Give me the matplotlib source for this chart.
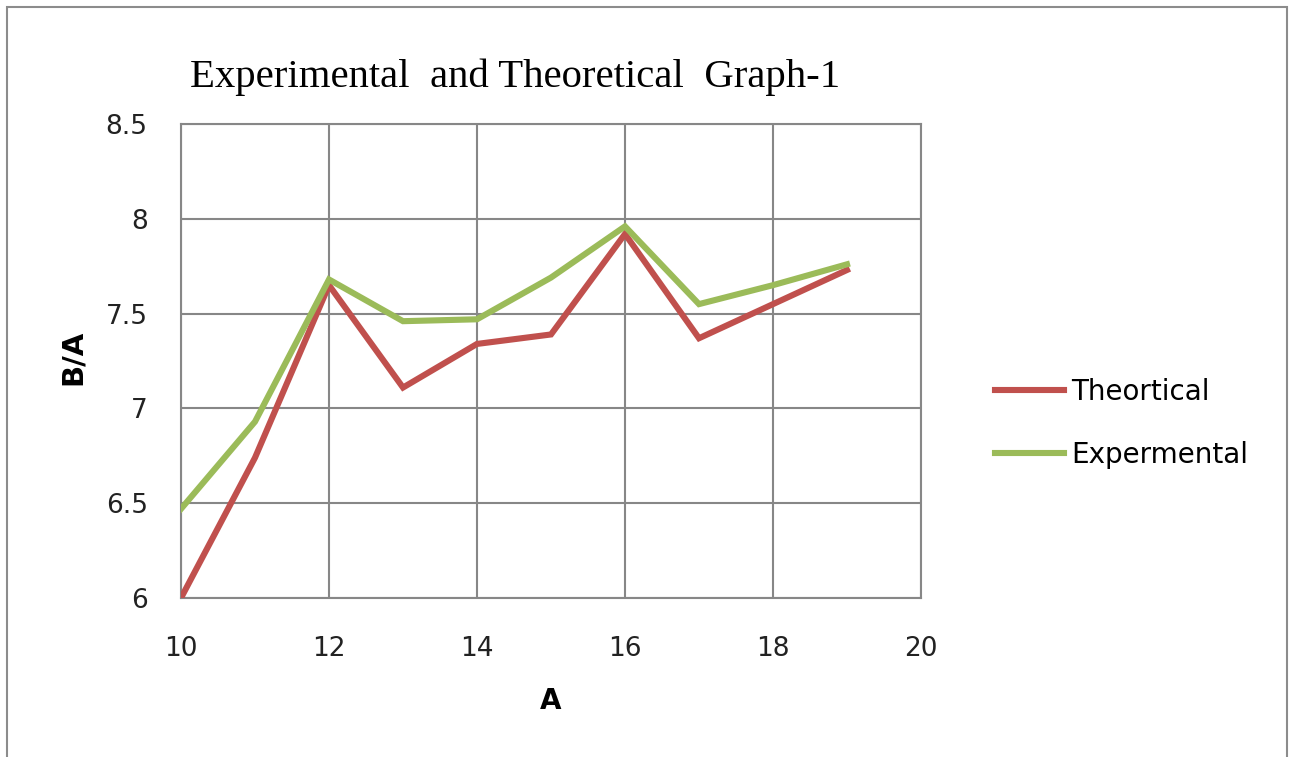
import numpy as np
import matplotlib.pyplot as plt
from matplotlib.patches import Rectangle

# chart data
a_values = [10, 11, 12, 13, 14, 15, 16, 17, 18, 19]
theoretical = [6.00, 6.74, 7.65, 7.11, 7.34, 7.39, 7.92, 7.37, 7.55, 7.73]
experimental = [6.47, 6.93, 7.68, 7.46, 7.47, 7.69, 7.96, 7.55, 7.65, 7.76]
x_ticks = [10, 12, 14, 16, 18, 20]
y_ticks = [6, 6.5, 7, 7.5, 8, 8.5]
y_tick_labels = ["6", "6.5", "7", "7.5", "8", "8.5"]

red = "#c0504d"
green = "#9bbb59"
grid_gray = "#878787"
sans = "DejaVu Sans"

fig = plt.figure(figsize=(12.95, 7.57), dpi=100)
ax = fig.add_axes([181 / 1295, 1 - 598 / 757, 740 / 1295, 474 / 757])

# outer chart border
fig.patches.append(Rectangle((7 / 1295, -0.05), 1280 / 1295, 1.05 - 7 / 757,
                             transform=fig.transFigure, fill=False,
                             edgecolor="#8c8c8c", linewidth=1.5))

ax.plot(a_values, theoretical, color=red, linewidth=4.4, label="Theortical",
        solid_joinstyle="miter", zorder=3)
ax.plot(a_values, experimental, color=green, linewidth=4.4, label="Expermental",
        solid_joinstyle="miter", zorder=3)

ax.set_xlim(10, 20)
ax.set_ylim(6, 8.5)
ax.set_xticks(x_ticks)
ax.set_yticks(y_ticks)
ax.set_yticklabels(y_tick_labels)
ax.grid(True, color=grid_gray, linewidth=1.5)
ax.set_axisbelow(True)
for s in ax.spines.values():
    s.set_color(grid_gray)
    s.set_linewidth(1.5)
ax.tick_params(length=0, labelsize=19, colors="#222222")
ax.tick_params(axis="y", pad=24)
ax.tick_params(axis="x", pad=27)
for lab in ax.get_xticklabels() + ax.get_yticklabels():
    lab.set_family(sans)

ax.set_xlabel("A", fontsize=20, fontweight="bold", family=sans)
ax.set_ylabel("B/A", fontsize=21, fontweight="bold", family=sans)
ax.xaxis.set_label_coords(0.5, -0.188)
ax.yaxis.set_label_coords(-0.127, 0.508)

fig.text(190 / 1295, 1 - 77 / 757, "Experimental  and Theoretical  Graph-1",
         fontsize=29.3, family="Liberation Serif", ha="left", va="center")

ax.legend(loc="center left", bbox_to_anchor=(1.1, 0.368), frameon=False,
          prop={"family": sans, "size": 20}, borderpad=0, borderaxespad=0,
          handlelength=2.5, handletextpad=0.25, labelspacing=1.25)

fig.savefig("out.png", dpi=100, facecolor="white")
